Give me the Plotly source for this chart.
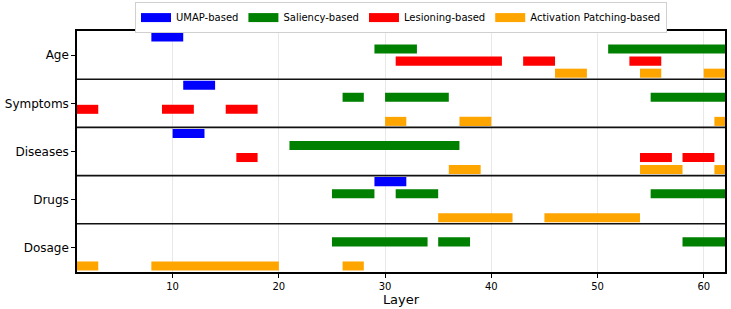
import plotly.graph_objects as go

# Row categories (top to bottom) and method names
rows = ["Age", "Symptoms", "Diseases", "Drugs", "Dosage"]
methods = ["UMAP-based", "Saliency-based", "Lesioning-based", "Activation Patching-based"]
colors = ["#0000ff", "#008000", "#ff0000", "#ffa500"]

# Segments per method: row label, start layer, end layer
umap_row = ["Age", "Symptoms", "Diseases", "Drugs"]
umap_start = [8, 11, 10, 29]
umap_end = [11, 14, 13, 32]

sal_row = ["Age", "Age", "Symptoms", "Symptoms", "Symptoms", "Diseases",
           "Drugs", "Drugs", "Drugs", "Dosage", "Dosage", "Dosage"]
sal_start = [29, 51, 26, 30, 55, 21, 25, 31, 55, 25, 35, 58]
sal_end = [33, 62, 28, 36, 62, 37, 29, 35, 62, 34, 38, 62]

les_row = ["Age", "Age", "Age", "Symptoms", "Symptoms", "Symptoms",
           "Diseases", "Diseases", "Diseases"]
les_start = [31, 43, 53, 1, 9, 15, 16, 54, 58]
les_end = [41, 46, 56, 3, 12, 18, 18, 57, 61]

act_row = ["Age", "Age", "Age", "Symptoms", "Symptoms", "Symptoms",
           "Diseases", "Diseases", "Diseases", "Drugs", "Drugs",
           "Dosage", "Dosage", "Dosage"]
act_start = [46, 54, 60, 30, 37, 61, 36, 54, 61, 35, 45, 1, 8, 26]
act_end = [49, 56, 62, 32, 40, 62, 39, 58, 62, 42, 54, 3, 20, 28]

xticks = [10, 20, 30, 40, 50, 60]

series = [
    (umap_row, umap_start, umap_end),
    (sal_row, sal_start, sal_end),
    (les_row, les_start, les_end),
    (act_row, act_start, act_end),
]

fig = go.Figure()
for k, (rr, ss, ee) in enumerate(series):
    ys = [rows.index(r) * 4 + k + 0.5 for r in rr]
    fig.add_trace(go.Bar(
        y=ys, x=[e - s for s, e in zip(ss, ee)], base=ss,
        orientation="h", width=0.75,
        marker=dict(color=colors[k], line=dict(width=0)),
        showlegend=False, hoverinfo="skip",
    ))
    # legend entry
    fig.add_trace(go.Scatter(
        x=[None], y=[None], mode="lines", name=methods[k],
        line=dict(color=colors[k], width=9), showlegend=True,
    ))

for i in range(1, len(rows)):
    fig.add_shape(type="line", xref="paper", x0=0, x1=1, yref="y",
                  y0=i * 4, y1=i * 4, line=dict(color="#111111", width=1.6),
                  layer="above")

fig.update_layout(
    width=731, height=309,
    margin=dict(l=77, r=6, t=31, b=37, autoexpand=False),
    paper_bgcolor="white", plot_bgcolor="white",
    barmode="overlay",
    font=dict(family="DejaVu Sans", color="black"),
    legend=dict(orientation="h", x=0.5, xanchor="center", y=1.12, yanchor="top",
                bgcolor="white", bordercolor="#d0d0d0", borderwidth=1,
                font=dict(size=10), itemwidth=30, tracegroupgap=0),
    xaxis=dict(range=[1, 62], tickvals=xticks, ticks="outside", ticklen=4,
               tickcolor="black", tickfont=dict(size=10), automargin=False,
               showgrid=True, gridcolor="#e8e8e8", gridwidth=1,
               showline=True, linecolor="black", linewidth=1.5, mirror=True,
               zeroline=False,
               title=dict(text="Layer", font=dict(size=13), standoff=2)),
    yaxis=dict(range=[20, 0], tickvals=[r * 4 + 2 for r in range(len(rows))],
               ticktext=rows, ticks="outside", ticklen=4, tickcolor="black",
               tickfont=dict(size=12), showgrid=False, automargin=False,
               showline=True, linecolor="black", linewidth=1.5, mirror=True,
               zeroline=False),
)

# remove the default page margin so the figure sits at the window's corner
fig.write_html("out.html", config={"displayModeBar": False},
               post_script="document.body.style.margin='0px';")
